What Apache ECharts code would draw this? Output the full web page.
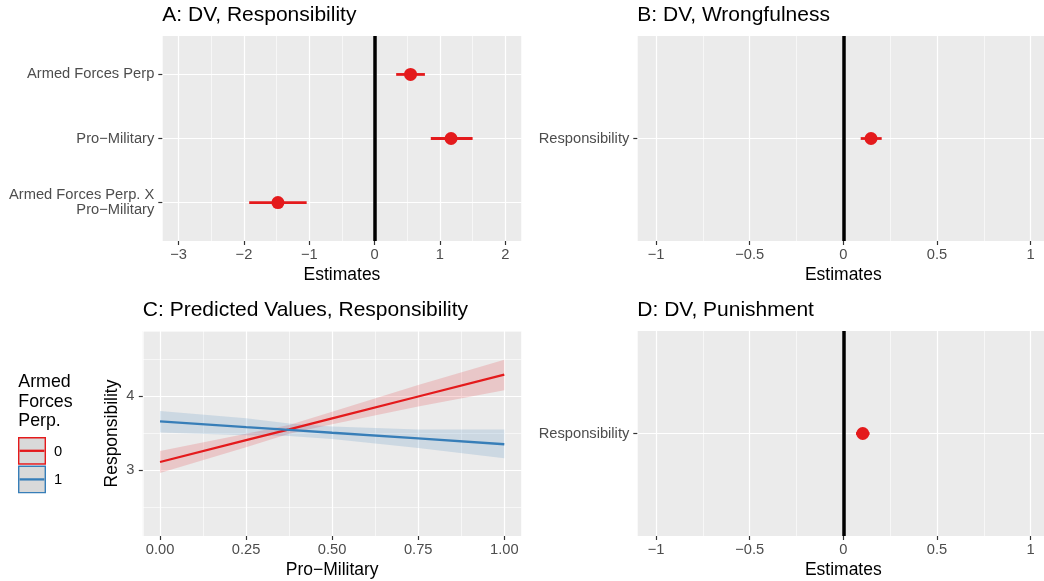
<!DOCTYPE html>
<html>
<head>
<meta charset="utf-8">
<script src="https://cdn.jsdelivr.net/npm/echarts@6/dist/echarts.min.js"></script>
<style>
html,body{margin:0;padding:0;background:#ffffff;}
#chart{width:1044px;height:581px;}
</style>
</head>
<body>
<div id="chart"></div>
<script>
// ---------------- data ----------------
// Panel A: DV, Responsibility (coefficient estimates with CIs)
const termsA = ['Armed Forces Perp', 'Pro\u2212Military', 'Armed Forces Perp. X\nPro\u2212Military'];
const estA  = [0.55, 1.17, -1.48];
const lowA  = [0.33, 0.86, -1.92];
const highA = [0.77, 1.50, -1.04];
const ticksA = [-3, -2, -1, 0, 1, 2];

// Panel B: DV, Wrongfulness
const termsB = ['Responsibility'];
const estB  = [0.148];
const lowB  = [0.093];
const highB = [0.205];

// Panel D: DV, Punishment
const termsD = ['Responsibility'];
const estD  = [0.104];
const lowD  = [0.068];
const highD = [0.140];
const ticksBD = [-1, -0.5, 0, 0.5, 1];

// Panel C: predicted values by Pro-Military, for Armed Forces Perp. = 0 / 1
const proMil = [0, 0.25, 0.375, 0.5, 0.75, 1];
const fit0 = [3.11, 3.405, 3.55, 3.70, 3.995, 4.29];
const lo0  = [2.96, 3.31, 3.49, 3.62, 3.86, 4.08];
const hi0  = [3.26, 3.49, 3.61, 3.79, 4.15, 4.49];
const fit1 = [3.66, 3.58, 3.545, 3.505, 3.43, 3.35];
const lo1  = [3.51, 3.47, 3.46, 3.42, 3.30, 3.16];
const hi1  = [3.80, 3.70, 3.63, 3.59, 3.55, 3.55];
const ticksCx = [0, 0.25, 0.5, 0.75, 1];
const ticksCy = [3, 4];
const groupLabels = ['0', '1'];

// ---------------- styling ----------------
const FONT = '"Liberation Sans", Arial, Helvetica, sans-serif';
const RED = '#E41A1C', BLUE = '#377EB8';
const BG = '#EBEBEB';
const minus = v => String(v).replace('-', '\u2212');

function majorAxis(o) {
  return {
    type: 'value', gridIndex: o.grid, min: o.min, max: o.max,
    minInterval: o.step, maxInterval: o.step, inverse: !!o.inverse,
    position: o.position,
    axisLine: {show: false, onZero: false},
    axisTick: {show: true, length: 4, customValues: o.ticks, lineStyle: {color: '#333333', width: 1.2}},
    axisLabel: {customValues: o.ticks, formatter: o.fmt, color: '#4D4D4D', fontSize: 14.7,
                fontFamily: FONT, margin: o.margin, lineHeight: 15},
    splitLine: {show: true, lineStyle: {color: '#FFFFFF', width: 1.2}},
    name: o.name || '', nameLocation: 'middle', nameGap: o.nameGap || 0,
    nameTextStyle: {color: '#000000', fontSize: 17.5, fontFamily: FONT},
    z: 1
  };
}
function minorAxis(o) {
  return {
    type: 'value', gridIndex: o.grid, min: o.min, max: o.max,
    minInterval: o.step / 2, maxInterval: o.step / 2, position: o.position,
    axisLine: {show: false, onZero: false}, axisTick: {show: false}, axisLabel: {show: false},
    splitLine: {show: true, lineStyle: {color: '#FFFFFF', width: 0.6}},
    z: 0
  };
}

const grids = [
  {left: 162.3, top: 36, width: 359.3, height: 205},   // A
  {left: 637.3, top: 36, width: 412, height: 205},     // B
  {left: 142.8, top: 331, width: 378.7, height: 205},  // C
  {left: 637.3, top: 331, width: 412, height: 205}     // D
].map(g => Object.assign(g, {show: true, backgroundColor: BG, borderWidth: 0,
                             containLabel: false, outerBoundsMode: 'none'}));

const xAxes = [
  majorAxis({grid: 0, position: 'bottom', min: -3.25, max: 2.25, step: 1, ticks: ticksA, fmt: minus, margin: 6.5, name: 'Estimates', nameGap: 25}),
  minorAxis({grid: 0, position: 'top', min: -3.25, max: 2.25, step: 1}),
  majorAxis({grid: 1, position: 'bottom', min: -1.1, max: 1.1, step: 0.5, ticks: ticksBD, fmt: minus, margin: 6.5, name: 'Estimates', nameGap: 25}),
  minorAxis({grid: 1, position: 'top', min: -1.1, max: 1.1, step: 0.5}),
  majorAxis({grid: 2, position: 'bottom', min: -0.05, max: 1.05, step: 0.25, ticks: ticksCx, fmt: v => Number(v).toFixed(2), margin: 6.5, name: 'Pro\u2212Military', nameGap: 25}),
  minorAxis({grid: 2, position: 'top', min: -0.05, max: 1.05, step: 0.25}),
  majorAxis({grid: 3, position: 'bottom', min: -1.1, max: 1.1, step: 0.5, ticks: ticksBD, fmt: minus, margin: 6.5, name: 'Estimates', nameGap: 25}),
  minorAxis({grid: 3, position: 'top', min: -1.1, max: 1.1, step: 0.5})
];
const yAxes = [
  majorAxis({grid: 0, position: 'left', min: 0.4, max: 3.6, step: 1, inverse: true, ticks: [1, 2, 3], fmt: v => termsA[Math.round(v) - 1], margin: 8}),
  majorAxis({grid: 1, position: 'left', min: 0.4, max: 1.6, step: 1, inverse: true, ticks: [1], fmt: v => termsB[Math.round(v) - 1], margin: 8}),
  majorAxis({grid: 2, position: 'left', min: 2.11, max: 4.88, step: 1, ticks: ticksCy, fmt: v => String(v), margin: 8.5, name: 'Responsibility', nameGap: 22}),
  minorAxis({grid: 2, position: 'right', min: 2.11, max: 4.88, step: 1}),
  majorAxis({grid: 3, position: 'left', min: 0.4, max: 1.6, step: 1, inverse: true, ticks: [1], fmt: v => termsD[Math.round(v) - 1], margin: 8})
];

function errRender(params, api) {
  const y = api.value(0), lo = api.value(1), hi = api.value(2);
  const p1 = api.coord([lo, y]), p2 = api.coord([hi, y]);
  return {type: 'line', shape: {x1: p1[0], y1: p1[1], x2: p2[0], y2: p2[1]},
          style: {stroke: RED, lineWidth: 2.8}};
}
function coefSeries(xi, yi, est, low, high) {
  return [
    {type: 'custom', xAxisIndex: xi, yAxisIndex: yi, renderItem: errRender, silent: true, z: 3,
     data: est.map((e, i) => [i + 1, low[i], high[i]]), encode: {x: [1, 2], y: 0}},
    {type: 'scatter', xAxisIndex: xi, yAxisIndex: yi, symbol: 'circle', symbolSize: 13, silent: true, z: 4,
     itemStyle: {color: RED, opacity: 1},
     data: est.map((e, i) => [e, i + 1]),
     markLine: {silent: true, symbol: ['none', 'none'], label: {show: false}, animation: false,
                lineStyle: {color: '#000000', width: 3.5, type: 'solid', opacity: 1},
                emphasis: {disabled: true}, data: [{xAxis: 0}]}}
  ];
}
function bandSeries(lo, hi, color) {
  return {
    type: 'custom', xAxisIndex: 4, yAxisIndex: 2, silent: true, z: 2,
    data: proMil.map((x, i) => [x, lo[i], hi[i]]), encode: {x: 0, y: [1, 2]},
    renderItem: function (params, api) {
      if (params.dataIndex !== 0) return null;
      const pts = [];
      for (let i = 0; i < proMil.length; i++) pts.push(api.coord([proMil[i], hi[i]]));
      for (let i = proMil.length - 1; i >= 0; i--) pts.push(api.coord([proMil[i], lo[i]]));
      return {type: 'polygon', shape: {points: pts}, style: {fill: color}};
    }
  };
}
function fitSeries(fit, color) {
  return {type: 'line', xAxisIndex: 4, yAxisIndex: 2, showSymbol: false, symbol: 'none', silent: true, z: 3,
          lineStyle: {color: color, width: 2.3}, data: proMil.map((x, i) => [x, fit[i]])};
}

const series = [].concat(
  coefSeries(0, 0, estA, lowA, highA),
  coefSeries(2, 1, estB, lowB, highB),
  coefSeries(6, 4, estD, lowD, highD),
  [bandSeries(lo0, hi0, 'rgba(228,26,28,0.17)'),
   bandSeries(lo1, hi1, 'rgba(55,126,184,0.17)'),
   fitSeries(fit0, RED),
   fitSeries(fit1, BLUE)]
);

const titleStyle = {fontSize: 21, fontWeight: 'normal', color: '#000000', fontFamily: FONT};
const titles = [
  {text: 'A: DV, Responsibility', left: 162.3, top: 5},
  {text: 'B: DV, Wrongfulness', left: 637.3, top: 5},
  {text: 'C: Predicted Values, Responsibility', left: 142.8, top: 300},
  {text: 'D: DV, Punishment', left: 637.3, top: 300}
].map(t => Object.assign(t, {padding: 0, textStyle: titleStyle}));

const legendColors = [RED, BLUE];
const keyTops = [437.7, 466.3];
const graphic = [
  {type: 'text', left: 18.3, top: 372.4,
   style: {text: 'Armed\nForces\nPerp.', fill: '#000000', font: '17.8px ' + FONT, lineHeight: 19.5}}
];
groupLabels.forEach((lab, i) => {
  const y0 = keyTops[i];
  graphic.push({type: 'rect', shape: {x: 18.7, y: y0, width: 26.6, height: 26.3},
                style: {fill: '#D9D9D9', stroke: legendColors[i], lineWidth: 1.4}, silent: true});
  graphic.push({type: 'line', shape: {x1: 19.6, y1: y0 + 13.1, x2: 44.4, y2: y0 + 13.1},
                style: {stroke: legendColors[i], lineWidth: 2.3}, silent: true});
  graphic.push({type: 'text', left: 54, top: y0 + 6.5,
                style: {text: lab, fill: '#000000', font: '14.7px ' + FONT, lineHeight: 14.7}, silent: true});
});

const chart = echarts.init(document.getElementById('chart'), null, {renderer: 'canvas'});
chart.setOption({
  animation: false,
  backgroundColor: '#FFFFFF',
  textStyle: {fontFamily: FONT},
  title: titles,
  grid: grids,
  xAxis: xAxes,
  yAxis: yAxes,
  series: series,
  graphic: graphic
});
</script>
</body>
</html>
